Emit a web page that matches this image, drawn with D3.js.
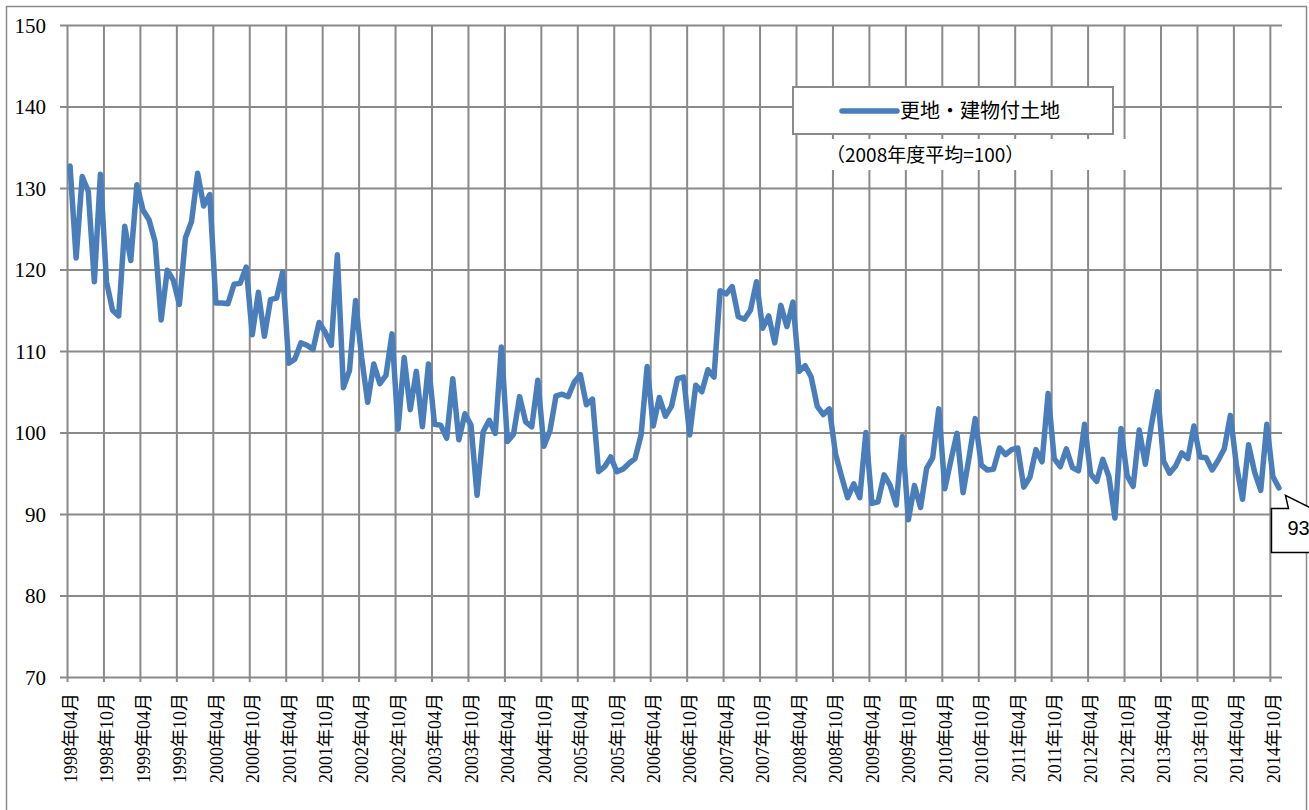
<!DOCTYPE html>
<html>
<head>
<meta charset="utf-8">
<script src="https://cdn.jsdelivr.net/npm/d3@7"></script>
<style>
  body { margin: 0; background: #fff; }
  svg { display: block; }
</style>
</head>
<body>
<svg id="chart" width="1309" height="810"></svg>
<script>
/* 更地・建物付土地の指数 (2008年度平均=100), 月次 1998年04月 - 2014年11月 */
var startYear = 1998, startMonth = 4;

var values = [
  // 1998
  132.7, 121.4, 131.4, 129.6, 118.5, 131.7, 118.5, 115.0, 114.3,
  // 1999
  125.3, 121.1, 130.4, 127.3, 126.1, 123.4, 113.8, 119.9, 118.7, 115.7, 123.9, 125.9,
  // 2000
  131.8, 127.8, 129.2, 115.9, 115.9, 115.8, 118.2, 118.3, 120.3, 112.0, 117.2, 111.8,
  // 2001
  116.3, 116.5, 119.7, 108.5, 109.0, 111.0, 110.7, 110.2, 113.5, 112.3, 110.7, 121.8,
  // 2002
  105.5, 107.6, 116.2, 109.2, 103.7, 108.4, 106.0, 107.0, 112.1, 100.4, 109.2, 102.8,
  // 2003
  107.5, 100.7, 108.4, 101.0, 100.9, 99.3, 106.6, 99.1, 102.3, 100.9, 92.3, 100.1,
  // 2004
  101.5, 99.9, 110.5, 98.9, 99.8, 104.4, 101.3, 100.7, 106.4, 98.3, 100.2, 104.5,
  // 2005
  104.7, 104.4, 106.2, 107.1, 103.4, 104.1, 95.2, 95.8, 97.0, 95.2, 95.5, 96.2,
  // 2006
  96.8, 99.7, 108.1, 100.8, 104.3, 102.0, 103.2, 106.6, 106.8, 99.7, 105.8, 105.0,
  // 2007
  107.7, 106.8, 117.4, 117.0, 117.9, 114.2, 113.9, 115.0, 118.5, 112.8, 114.3, 111.0,
  // 2008
  115.6, 113.0, 116.0, 107.5, 108.2, 106.8, 103.2, 102.2, 102.9, 97.4, 94.6, 92.0,
  // 2009
  93.7, 92.0, 100.0, 91.3, 91.5, 94.8, 93.5, 91.1, 99.5, 89.3, 93.5, 90.8,
  // 2010
  95.6, 96.9, 102.9, 93.1, 96.6, 99.9, 92.6, 97.0, 101.7, 96.0, 95.4, 95.5,
  // 2011
  98.1, 97.3, 97.9, 98.1, 93.3, 94.5, 97.9, 96.4, 104.8, 96.8, 95.8, 98.0,
  // 2012
  95.7, 95.3, 101.0, 94.9, 94.0, 96.7, 94.6, 89.5, 100.5, 94.7, 93.4, 100.3,
  // 2013
  96.1, 100.9, 105.0, 96.5, 95.0, 95.9, 97.5, 96.8, 100.8, 97.0, 96.9, 95.4,
  // 2014
  96.6, 98.0, 102.1, 96.0, 91.8, 98.5, 95.1, 92.9, 101.0, 94.6, 93.2
];

var tickLabels = [
  "1998年04月", "1998年10月", "1999年04月", "1999年10月", "2000年04月", "2000年10月",
  "2001年04月", "2001年10月", "2002年04月", "2002年10月", "2003年04月", "2003年10月",
  "2004年04月", "2004年10月", "2005年04月", "2005年10月", "2006年04月", "2006年10月",
  "2007年04月", "2007年10月", "2008年04月", "2008年10月", "2009年04月", "2009年10月",
  "2010年04月", "2010年10月", "2011年04月", "2011年10月", "2012年04月", "2012年10月",
  "2013年04月", "2013年10月", "2014年04月", "2014年10月"
];

var yTicks = [70, 80, 90, 100, 110, 120, 130, 140, 150];
var seriesName = "更地・建物付土地";
var noteText = "（2008年度平均=100）";

/* 月のカテゴリ名 */
var months = values.map(function(v, i) {
  var m = startMonth - 1 + i;
  return (startYear + Math.floor(m / 12)) + "年" + String(m % 12 + 1).padStart(2, "0") + "月";
});
var tickIdx = tickLabels.map(function(t) { return months.indexOf(t); });

var gridColor = "#8a8a8a",
    lineColor = "#4a7ebb",
    serif = "'Liberation Serif', 'Times New Roman', 'Noto Sans CJK JP', serif",
    sans = "'Noto Sans CJK JP', 'Noto Sans', sans-serif";

var svg = d3.select("#chart"),
    margin = {top: 25, right: 27, bottom: 133, left: 67},
    width = +svg.attr("width") - margin.left - margin.right,
    height = +svg.attr("height") - margin.top - margin.bottom;

svg.append("rect")
    .attr("width", svg.attr("width")).attr("height", svg.attr("height"))
    .attr("fill", "#fff");

/* buitenrand van de grafiek */
svg.append("rect")
    .attr("x", 6.5).attr("y", 6.5)
    .attr("width", 1300).attr("height", 820)
    .attr("fill", "none")
    .attr("stroke", gridColor)
    .attr("stroke-width", 1.5);

var g = svg.append("g")
    .attr("transform", "translate(" + margin.left + "," + margin.top + ")");

var x = d3.scaleLinear().domain([0, values.length]).range([0, width]),
    y = d3.scaleLinear().domain([70, 150]).range([height, 0]);

/* y as + horizontale rasterlijnen */
g.append("g")
    .attr("class", "axis axis--y")
    .call(d3.axisLeft(y).tickValues(yTicks).tickSize(-width).tickFormat(d3.format("d")))
    .call(function(a) { a.select(".domain").remove(); })
    .call(function(a) {
      a.selectAll(".tick line")
        .attr("x1", -7)
        .attr("stroke", gridColor)
        .attr("stroke-width", 2);
      a.selectAll(".tick text")
        .attr("x", -21)
        .attr("dy", "0.35em")
        .attr("fill", "#000")
        .style("font-family", serif)
        .style("font-size", "21px");
    });

/* x as + verticale rasterlijnen */
g.append("g")
    .attr("class", "axis axis--x")
    .attr("transform", "translate(0," + height + ")")
    .call(d3.axisBottom(x).tickValues(tickIdx).tickSize(-height)
      .tickFormat(function(d, k) { return tickLabels[k]; }))
    .call(function(a) { a.select(".domain").remove(); })
    .call(function(a) {
      a.selectAll(".tick line")
        .attr("y1", 5)
        .attr("stroke", gridColor)
        .attr("stroke-width", 2);
      a.selectAll(".tick text")
        .attr("x", 0).attr("y", 0)
        .attr("dy", "0.35em")
        .attr("transform", "translate(3,16) rotate(-90)")
        .attr("text-anchor", "end")
        .attr("fill", "#000")
        .style("font-family", serif)
        .style("font-size", "18px");
    });

/* opmerking met witte achtergrond */
svg.append("rect")
    .attr("x", 815).attr("y", 139)
    .attr("width", 311).attr("height", 31)
    .attr("fill", "#fff");
svg.append("text")
    .attr("x", 826).attr("y", 155)
    .attr("dy", "0.35em")
    .style("font-family", sans)
    .style("font-size", "19px")
    .text(noteText);

/* lijn */
var line = d3.line()
    .x(function(d, i) { return x(i + 0.5); })
    .y(function(d) { return y(d); });

g.append("path")
    .datum(values)
    .attr("fill", "none")
    .attr("stroke", lineColor)
    .attr("stroke-width", 5.5)
    .attr("stroke-linejoin", "round")
    .attr("stroke-linecap", "round")
    .attr("d", line);

/* legenda */
var legend = svg.append("g").attr("transform", "translate(793,87)");
legend.append("rect")
    .attr("width", 320).attr("height", 47)
    .attr("fill", "#fff")
    .attr("stroke", gridColor)
    .attr("stroke-width", 2);
legend.append("line")
    .attr("x1", 49).attr("x2", 104)
    .attr("y1", 24).attr("y2", 24)
    .attr("stroke", lineColor)
    .attr("stroke-width", 5.5)
    .attr("stroke-linecap", "round");
legend.append("text")
    .attr("x", 107).attr("y", 24)
    .attr("dy", "0.35em")
    .style("font-family", sans)
    .style("font-size", "20px")
    .text(seriesName);

/* label bij het laatste punt */
var last = values.length - 1,
    px = margin.left + x(last + 0.5),
    py = margin.top + y(values[last]),
    tipX = px + 6.5, tipY = py + 7.5;

svg.append("path")
    .attr("d", "M" + (tipX - 14) + "," + (tipY + 57) +
               "L" + (tipX - 14) + "," + (tipY + 13) +
               "L" + (tipX + 3) + "," + (tipY + 13) +
               "L" + tipX + "," + tipY +
               "L" + (tipX + 26) + "," + (tipY + 13) +
               "L" + (tipX + 60) + "," + (tipY + 13) +
               "L" + (tipX + 60) + "," + (tipY + 57) + "Z")
    .attr("fill", "#fff")
    .attr("stroke", "#000")
    .attr("stroke-width", 1.5);
svg.append("text")
    .attr("x", tipX + 2).attr("y", tipY + 40)
    .style("font-family", "'Liberation Sans', Arial, sans-serif")
    .style("font-size", "20px")
    .text(d3.format(".0f")(values[last]));
</script>
</body>
</html>
